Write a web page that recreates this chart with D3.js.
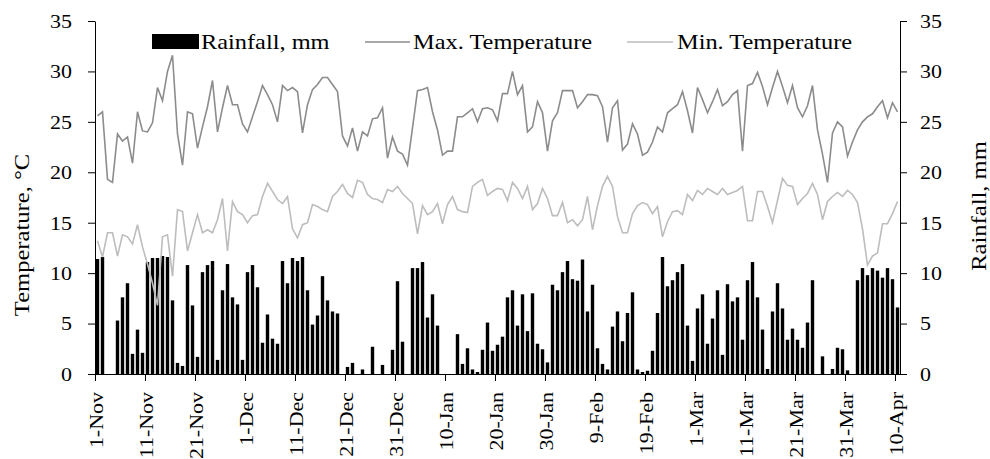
<!DOCTYPE html>
<html>
<head>
<meta charset="utf-8">
<script src="https://cdn.jsdelivr.net/npm/d3@7"></script>
<style>
  body { margin: 0; background: #fff; }
  text { font-family: 'Liberation Serif', 'Times New Roman', serif; fill: #000; }
  .axis path, .axis line { stroke: #000; }
</style>
</head>
<body>
<div id="chart-container"></div>
<script>
// tick labels, one every 10 days from 1-Nov
const tickLabels = ['1-Nov', '11-Nov', '21-Nov', '1-Dec', '11-Dec', '21-Dec', '31-Dec', '10-Jan', '20-Jan',
  '30-Jan', '9-Feb', '19-Feb', '1-Mar', '11-Mar', '21-Mar', '31-Mar', '10-Apr']

// daily values, 1-Nov .. 10-Apr (161 days)
const rainfall = [
  11.4, 11.6, 0, 0, 5.3, 7.6, 9.0, 2.0, 4.4, 2.1,
  11.1, 11.5, 11.5, 11.7, 11.6, 7.3, 1.1, 0.8, 10.8, 6.8,
  1.7, 10.1, 10.8, 11.2, 1.4, 8.3, 10.9, 7.6, 6.9, 1.4,
  10.1, 10.8, 8.6, 3.1, 5.9, 3.5, 3.0, 11.2, 9.0, 11.5,
  11.2, 11.6, 8.3, 4.9, 5.8, 9.7, 7.3, 6.2, 6.0, 0,
  0.7, 1.1, 0, 0.45, 0, 2.7, 0, 0.9, 0, 2.4,
  9.2, 3.2, 0, 10.5, 10.5, 11.1, 5.6, 7.9, 4.8, 0,
  0, 0, 3.95, 1.0, 2.55, 0.45, 0.2, 2.4, 5.1, 2.3,
  2.9, 3.7, 7.6, 8.3, 4.8, 7.9, 4.25, 8.0, 3.0, 2.45,
  1.15, 8.85, 8.3, 10.1, 11.2, 9.4, 9.25, 11.35, 6.2, 8.85,
  2.55, 1.0, 0.45, 4.7, 6.2, 3.25, 6.05, 8.1, 0.45, 0.2,
  0.32, 2.3, 6.05, 11.6, 8.7, 9.3, 10.1, 10.9, 4.8, 1.3,
  6.5, 7.9, 3.0, 5.5, 8.3, 1.9, 8.9, 7.2, 7.6, 3.4,
  9.3, 11.1, 7.6, 4.4, 0.5, 6.2, 9.0, 6.5, 3.4, 4.5,
  3.4, 2.6, 5.1, 9.3, 0, 1.75, 0, 0.5, 2.6, 2.45,
  0.36, 0, 9.3, 10.5, 9.8, 10.5, 10.25, 9.55, 10.5, 9.4,
  6.6
]

const maxTemp = [
  25.6, 26.0, 19.3, 19.0, 23.8, 23.1, 23.5, 20.9, 26.0, 24.1,
  24.0, 24.9, 28.4, 27.1, 30.0, 31.6, 23.8, 20.7, 26.0, 25.8,
  22.4, 24.5, 26.5, 29.1, 24.0, 26.4, 28.6, 26.7, 26.7, 24.8,
  24.0, 25.5, 27.0, 28.6, 27.7, 26.7, 25.0, 28.6, 28.1, 28.4,
  28.0, 23.9, 26.7, 28.2, 28.7, 29.4, 29.4, 28.7, 28.0, 23.6,
  22.6, 24.4, 22.1, 24.0, 23.6, 25.3, 25.4, 26.4, 21.4, 23.5,
  22.1, 21.8, 20.7, 24.4, 28.1, 28.2, 28.4, 26.0, 24.2, 21.7,
  22.1, 22.1, 25.5, 25.5, 25.9, 26.3, 25.0, 26.3, 26.4, 26.2,
  25.1, 27.8, 27.8, 30.0, 27.7, 28.6, 24.0, 24.5, 27.0, 25.9,
  22.1, 25.1, 25.9, 28.1, 28.1, 28.1, 26.4, 27.0, 27.7, 27.7,
  27.6, 26.5, 23.0, 26.4, 27.1, 22.2, 22.8, 24.8, 23.8, 21.7,
  22.0, 23.0, 24.5, 24.0, 25.9, 26.3, 26.7, 28.0, 26.1, 23.9,
  28.4, 27.2, 25.9, 27.0, 28.2, 26.6, 27.0, 27.7, 28.1, 22.1,
  28.6, 28.8, 29.9, 28.5, 26.7, 28.4, 30.0, 28.5, 26.9, 28.6,
  26.4, 25.5, 26.6, 28.6, 24.2, 21.8, 19.0, 23.9, 25.0, 24.5,
  21.6, 23.0, 24.2, 25.0, 25.5, 25.8, 26.5, 27.1, 25.4, 26.9,
  26.0
]

const minTemp = [
  13.2, 11.6, 14.0, 14.0, 11.7, 13.8, 13.6, 12.9, 14.8, 12.6,
  10.9, 9.0, 6.8, 13.6, 13.8, 9.7, 16.3, 16.1, 12.2, 14.0,
  15.8, 14.0, 14.3, 14.0, 15.3, 17.4, 12.2, 17.1, 16.1, 15.8,
  15.0, 15.7, 15.8, 17.6, 18.9, 18.1, 17.3, 16.9, 17.6, 14.4,
  13.5, 14.8, 15.0, 16.8, 16.6, 16.3, 16.1, 17.6, 18.1, 18.8,
  17.9, 17.5, 19.2, 19.0, 17.8, 17.4, 17.3, 17.0, 18.3, 18.1,
  18.6, 17.9, 17.4, 16.9, 13.9, 16.7, 15.8, 16.1, 16.9, 14.9,
  16.8, 17.6, 16.3, 16.1, 16.0, 18.6, 19.0, 19.3, 17.7, 18.1,
  18.4, 18.3, 17.2, 19.0, 18.4, 17.4, 18.6, 16.3, 16.9, 18.4,
  17.4, 15.7, 15.7, 17.0, 15.0, 15.3, 14.7, 15.3, 17.6, 14.3,
  16.7, 18.6, 19.6, 18.6, 15.6, 14.0, 14.0, 15.9, 16.7, 17.0,
  16.8, 15.9, 16.6, 13.6, 15.1, 16.1, 16.2, 15.8, 17.8, 17.2,
  18.2, 17.8, 18.4, 18.1, 17.8, 18.4, 17.8, 18.0, 18.2, 18.6,
  15.2, 15.2, 18.1, 18.1, 16.6, 15.0, 17.2, 19.4, 18.7, 18.6,
  16.8, 17.4, 17.9, 18.9, 17.8, 15.3, 17.1, 17.6, 18.0, 17.6,
  18.2, 17.8, 17.0, 14.4, 10.8, 11.7, 12.0, 14.9, 14.9, 15.9,
  17.1
]

const yTicks = [0, 5, 10, 15, 20, 25, 30, 35]

// widen Times glyphs along the text direction, the original font runs wide
const stretch = (sel, k) =>
  sel.each(function () {
    const len = this.getComputedTextLength()
    d3.select(this).attr('textLength', len * k).attr('lengthAdjust', 'spacingAndGlyphs')
  })

const weatherChart = () => {
  const margin = { top: 21, right: 90, bottom: 85, left: 95 }
  const width = 990 - margin.left - margin.right
  const height = 459 - margin.top - margin.bottom

  const root = d3
    .select('#chart-container')
    .append('svg')
    .attr('width', width + margin.left + margin.right)
    .attr('height', height + margin.top + margin.bottom)

  const svg = root.append('g').attr('transform', `translate(${margin.left}, ${margin.top})`)

  const xScale = d3.scaleLinear().domain([0, rainfall.length]).range([0, width])
  const yScale = d3.scaleLinear().domain([0, 35]).range([height, 0])

  // rainfall bars
  svg
    .selectAll('rect.bar')
    .data(rainfall.map((v, i) => ({ i, v })).filter((d) => d.v > 0))
    .join('rect')
    .attr('class', 'bar')
    .attr('x', (d) => xScale(d.i + 0.5) - 1.7)
    .attr('width', 3.4)
    .attr('y', (d) => yScale(d.v))
    .attr('height', (d) => height - yScale(d.v))
    .attr('fill', '#000')

  // temperature lines
  const line = d3
    .line()
    .x((d, i) => xScale(i + 0.5))
    .y((d) => yScale(d))

  svg.append('path').datum(minTemp).attr('d', line).attr('fill', 'none').attr('stroke', '#bdbdbd').attr('stroke-width', 1.6)
  svg.append('path').datum(maxTemp).attr('d', line).attr('fill', 'none').attr('stroke', '#8c8c8c').attr('stroke-width', 1.6)

  // axes
  const xAxis = svg
    .append('g')
    .attr('class', 'axis')
    .attr('transform', `translate(0, ${height})`)
    .call(
      d3
        .axisBottom(xScale)
        .tickValues(d3.range(0, 161, 10))
        .tickFormat((d, i) => tickLabels[i])
        .tickSize(7)
        .tickSizeOuter(0)
    )
  xAxis
    .selectAll('text')
    .attr('transform', 'rotate(-90)')
    .attr('text-anchor', 'end')
    .attr('x', -18)
    .attr('y', 7)
    .attr('dy', 0)
    .style('font-size', '18px')
    .call(stretch, 1.22)

  const leftAxis = svg
    .append('g')
    .attr('class', 'axis')
    .call(d3.axisLeft(yScale).tickValues(yTicks).tickSize(7).tickSizeOuter(0))
  leftAxis.selectAll('text').attr('x', -23).attr('dy', '0.35em').style('font-size', '18px').call(stretch, 1.22)

  const rightAxis = svg
    .append('g')
    .attr('class', 'axis')
    .attr('transform', `translate(${width}, 0)`)
    .call(d3.axisRight(yScale).tickValues(yTicks).tickSize(7).tickSizeOuter(0))
  rightAxis.selectAll('text').attr('x', 20).attr('dy', '0.35em').style('font-size', '18px').call(stretch, 1.22)

  root.selectAll('.axis').attr('font-family', null).attr('font-size', null)

  // axis titles
  root
    .append('text')
    .attr('transform', 'translate(29, 235) rotate(-90)')
    .attr('text-anchor', 'middle')
    .style('font-size', '21px')
    .text('Temperature, °C')
    .call(stretch, 1.17)

  root
    .append('text')
    .attr('transform', 'translate(986, 206) rotate(-90)')
    .attr('text-anchor', 'middle')
    .style('font-size', '21px')
    .text('Rainfall, mm')
    .call(stretch, 1.17)

  // legend
  const legend = root.append('g')
  legend.append('rect').attr('x', 152).attr('y', 34).attr('width', 47).attr('height', 15).attr('fill', '#000')
  legend.append('line').attr('x1', 365).attr('x2', 410).attr('y1', 42).attr('y2', 42).attr('stroke', '#8c8c8c').attr('stroke-width', 1.6)
  legend.append('line').attr('x1', 627).attr('x2', 673).attr('y1', 42).attr('y2', 42).attr('stroke', '#bdbdbd').attr('stroke-width', 1.6)

  const legendItems = [
    { x: 201, label: 'Rainfall, mm' },
    { x: 413, label: 'Max. Temperature' },
    { x: 677, label: 'Min. Temperature' },
  ]
  legend
    .selectAll('text')
    .data(legendItems)
    .join('text')
    .attr('x', (d) => d.x)
    .attr('y', 49)
    .style('font-size', '21px')
    .text((d) => d.label)
    .call(stretch, 1.16)
}

weatherChart()
</script>
</body>
</html>
